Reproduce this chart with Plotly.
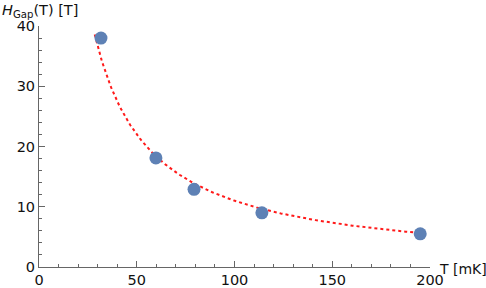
import numpy as np
import plotly.graph_objects as go

# Measured data
T_mK = [31.7, 59.8, 79.3, 114.0, 195.0]
H_gap = [38.0, 18.1, 12.9, 9.0, 5.5]

# Fit curve parameters (H = A / T^B)
FIT_A = 1100.0
FIT_B = 1.0
FIT_T_RANGE = (28.5, 199.0)

x_ticks = [0, 50, 100, 150, 200]
y_ticks = [0, 10, 20, 30, 40]

t_fit = np.linspace(FIT_T_RANGE[0], FIT_T_RANGE[1], 300)
h_fit = FIT_A / t_fit ** FIT_B

FONT = "DejaVu Sans"
FS = 14.5

fig = go.Figure()
fig.add_trace(go.Scatter(
    x=t_fit, y=h_fit, mode="lines",
    line=dict(color="#FF1A1A", width=2, dash="3px,3px"),
    hoverinfo="skip", showlegend=False, cliponaxis=False))
fig.add_trace(go.Scatter(
    x=T_mK, y=H_gap, mode="markers",
    marker=dict(color="#5E81B5", size=13, line=dict(width=0)),
    showlegend=False, cliponaxis=False))

axis_common = dict(
    showgrid=False, zeroline=False, showline=True,
    linecolor="#666666", linewidth=1,
    ticks="inside", ticklen=6, tickcolor="#666666", tickwidth=1,
    tickfont=dict(family=FONT, size=FS, color="#111111"),
    mirror=False, automargin=False,
)

fig.update_xaxes(range=[0, 200], tickvals=x_ticks,
                 minor=dict(ticks="inside", ticklen=3, dtick=10, tickcolor="#666666"),
                 **axis_common)
fig.update_yaxes(range=[0, 40], tickvals=y_ticks,
                 minor=dict(ticks="inside", ticklen=3, dtick=2, tickcolor="#666666"),
                 **axis_common)

fig.add_annotation(
    text="<i>H</i><sub>Gap</sub>(T) [T]", xref="paper", yref="paper",
    x=-39 / 391, y=1 + 15 / 241, xanchor="left", yanchor="middle",
    showarrow=False, font=dict(family=FONT, size=14.5, color="#111111"))
fig.add_annotation(
    text="T [mK]", xref="paper", yref="paper",
    x=1 + 7 / 391, y=-2 / 241, xanchor="left", yanchor="middle",
    showarrow=False, font=dict(family=FONT, size=14, color="#111111"))

fig.update_layout(
    width=486, height=288,
    margin=dict(l=39, r=56, t=26, b=21, pad=0),
    plot_bgcolor="white", paper_bgcolor="white",
)

fig.write_html("out.html", config={"displayModeBar": False},
               post_script="document.body.style.margin='0';")
